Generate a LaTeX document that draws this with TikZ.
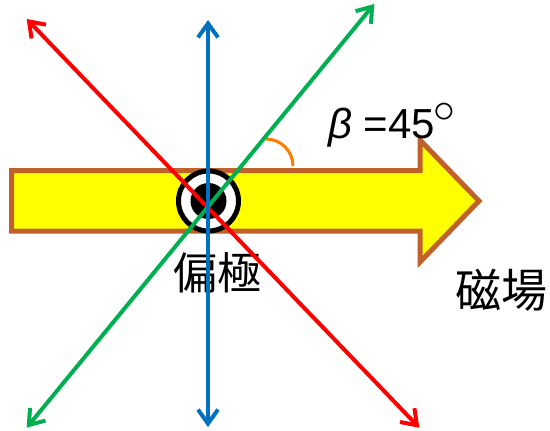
\documentclass[tikz,border=0pt]{standalone}
\usepackage{fontspec}
\setmainfont{Liberation Sans}
\newfontfamily\jp{Noto Sans CJK JP}
\usetikzlibrary{arrows.meta}
\definecolor{cred}{HTML}{FF0000}
\definecolor{cgreen}{HTML}{00B050}
\definecolor{cblue}{HTML}{0070C0}
\definecolor{cyellow}{HTML}{FFFF00}
\definecolor{cbrown}{HTML}{BF6129}
\definecolor{corange}{HTML}{FF7C00}
\begin{document}
\begin{tikzpicture}[x=1pt,y=-1pt,
  vec/.style={line width=4pt,{Straight Barb[length=14pt,width=20pt]}-{Straight Barb[length=14pt,width=20pt]}},
  lbl/.style={inner sep=0pt,outer sep=0pt}]
\useasboundingbox (0,0) rectangle (550,431);
% big field arrow
\draw[line width=5pt,draw=cbrown,fill=cyellow,line join=miter]
  (11.7,170.7) -- (420,170.7) -- (420,140) -- (479,201) -- (420,262) -- (420,231) -- (11.7,231) -- cycle;
% target
\node[circle,draw=black,fill=white,line width=5pt,minimum size=60pt,inner sep=0pt] (target) at (208.5,201) {};
\node[circle,fill=black,minimum size=36pt,inner sep=0pt] (core) at (208.5,201) {};
% angle arc
\draw[corange,line width=3pt] (266,139) arc[start angle=-90,end angle=0,radius=27];
% labels
\node[lbl,anchor=base west] (beta) at (328,138) {\fontsize{42}{42}\selectfont{\itshape β} =45\kern-1pt\raisebox{15.5pt}{\scalebox{1.75}{$\circ$}}};
\node[lbl] (pol) at (217.5,272.5) {\jp\fontsize{44}{44}\selectfont 偏極};
\node[lbl] (field) at (501.5,290) {\jp\fontsize{46}{46}\selectfont 磁場};
% endpoints
\coordinate (r1) at (26.7,19);
\coordinate (r2) at (419.3,427.7);
\coordinate (g1) at (26.7,427.7);
\coordinate (g2) at (374.3,4);
\coordinate (b1) at (208,20);
\coordinate (b2) at (208,427);
% vectors
\draw[vec,cred] (r1) -- (r2);
\draw[vec,cgreen] (g1) -- (g2);
\draw[vec,cblue] (b1) -- (b2);
\end{tikzpicture}
\end{document}
